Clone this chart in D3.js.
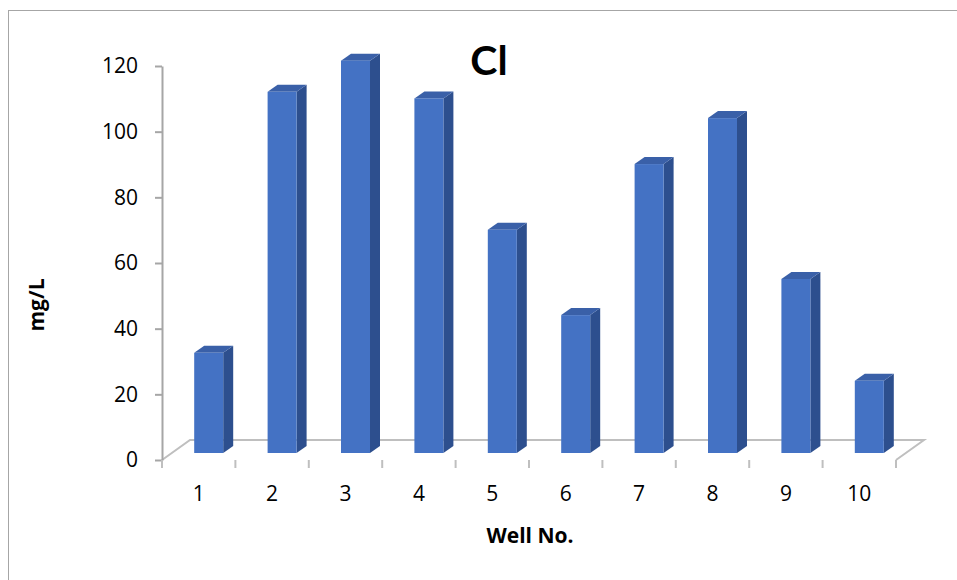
<!DOCTYPE html>
<html>
<head>
<meta charset="utf-8">
<script src="https://cdn.jsdelivr.net/npm/d3@7"></script>
<style>
  html, body { margin: 0; padding: 0; background: #fff; }
  svg { display: block; }
</style>
</head>
<body>
<svg id="chart" width="957" height="580"></svg>
<script>
const categories = ["1", "2", "3", "4", "5", "6", "7", "8", "9", "10"];
const values = [30.5, 110, 119.5, 108, 68, 42, 88, 102, 53, 22];
const yTicks = [0, 20, 40, 60, 80, 100, 120];
const title = "Cl";
const xTitle = "Well No.";
const yTitle = "mg/L";

const svg = d3.select("#chart");
const font = "'Open Sans', Lato, sans-serif";
const titleFont = "Lato, 'Open Sans', sans-serif";

// chart border (only top/left visible in frame)
svg.append("rect").attr("x", 8.5).attr("y", 10.5).attr("width", 970).attr("height", 600)
  .attr("fill", "none").attr("stroke", "#a6a6a6").attr("stroke-width", 1);

const x = d3.scaleBand().domain(categories).range([162, 896]).paddingInner(0).paddingOuter(0);
const y = d3.scaleLinear().domain([0, 120]).range([460, 66]);

const depthDx = 28, depthDy = -20;   // floor depth
const barShiftX = 10, barShiftY = -7; // bars sit partway into the floor
const barW = 29, barDx = 10, barDy = -7; // bar face width and bar depth

// floor
const floorColor = "#bfbfbf";
const fl = x.range()[0], fr = x.range()[1], f0 = y(0);
svg.append("path")
  .attr("d", `M${fl},${f0} L${fl + depthDx},${f0 + depthDy} L${fr + depthDx},${f0 + depthDy} L${fr},${f0}`)
  .attr("fill", "none").attr("stroke", floorColor).attr("stroke-width", 2);

// bars
const g = svg.append("g");
categories.forEach((c, i) => {
  const cx = x(c) + x.bandwidth() / 2 + barShiftX;
  const x0 = cx - barW / 2, x1 = cx + barW / 2;
  const yb = y(0) + barShiftY, yt = y(values[i]) + barShiftY;
  g.append("path")
    .attr("d", `M${x1},${yt} L${x1 + barDx},${yt + barDy} L${x1 + barDx},${yb + barDy} L${x1},${yb} Z`)
    .attr("fill", "#2d4f8e");
  g.append("path")
    .attr("d", `M${x0},${yt} L${x0 + barDx},${yt + barDy} L${x1 + barDx},${yt + barDy} L${x1},${yt} Z`)
    .attr("fill", "#3a60a8");
  g.append("rect").attr("x", x0).attr("y", yt).attr("width", barW).attr("height", yb - yt)
    .attr("fill", "#4472c4");
});

// y axis
const yAxis = d3.axisLeft(y).tickValues(yTicks).tickSize(7).tickPadding(17).tickSizeOuter(0);
const yg = svg.append("g").attr("transform", `translate(${fl},0)`).call(yAxis);
yg.select(".domain").attr("stroke", "#a6a6a6").attr("stroke-width", 2);
yg.selectAll(".tick line").attr("stroke", "#a6a6a6").attr("stroke-width", 2);
yg.selectAll(".tick text").attr("font-family", font).attr("font-size", 21).attr("fill", "#000");

// x axis
const xAxis = d3.axisBottom(x).tickSize(0).tickPadding(26).tickSizeOuter(0);
const xg = svg.append("g").attr("transform", `translate(0,${f0})`).call(xAxis);
xg.select(".domain").remove();
xg.selectAll(".tick text").attr("font-family", font).attr("font-size", 21).attr("fill", "#000");
const bounds = categories.map(c => x(c)).concat([fr]);
svg.append("g").selectAll("line").data(bounds).join("line")
  .attr("x1", d => d).attr("x2", d => d).attr("y1", f0).attr("y2", f0 + 8)
  .attr("stroke", "#bfbfbf").attr("stroke-width", 2);

// titles
svg.append("text").attr("x", 489).attr("y", 75).attr("text-anchor", "middle")
  .attr("font-family", titleFont).attr("font-weight", "bold").attr("font-size", 41).text(title);
svg.append("text").attr("x", 530).attr("y", 543).attr("text-anchor", "middle")
  .attr("font-family", font).attr("font-weight", "bold").attr("font-size", 21).text(xTitle);
svg.append("text").attr("transform", "translate(44,305) rotate(-90)").attr("text-anchor", "middle")
  .attr("font-family", font).attr("font-weight", "bold").attr("font-size", 21).text(yTitle);
</script>
</body>
</html>
